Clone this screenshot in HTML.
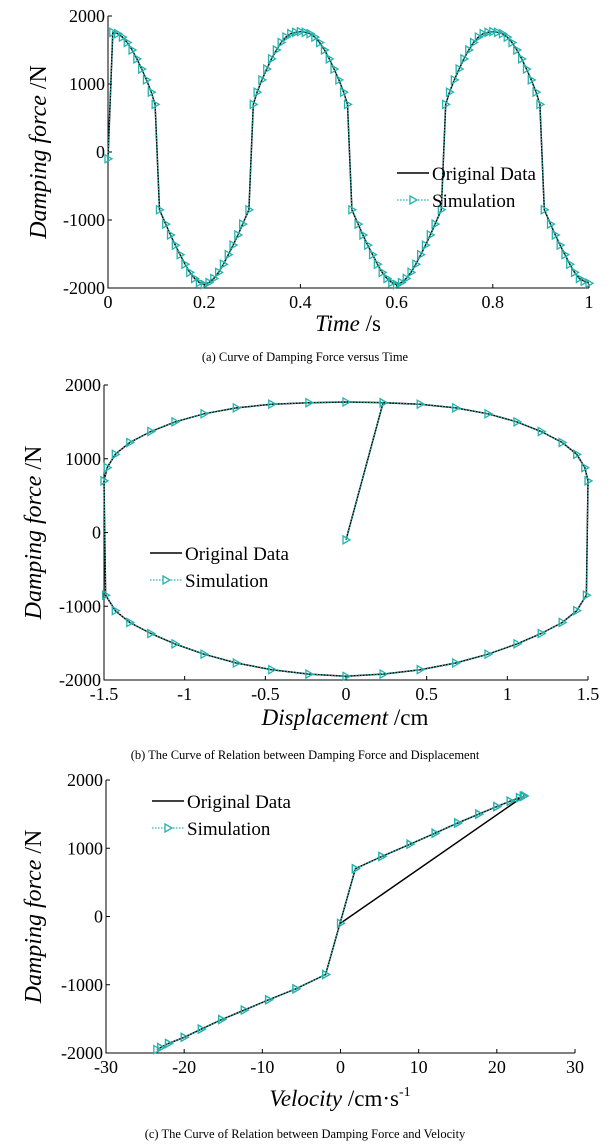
<!DOCTYPE html>
<html><head><meta charset="utf-8"><style>
html,body{margin:0;padding:0;background:#fff;}
svg{display:block;font-family:"Liberation Serif",serif;}
</style></head><body>
<svg id="root" width="610" height="1145" viewBox="0 0 610 1145"></svg>
<script>
// Chart (a) data: time (s) and damping force (N)
const timeA = [0,0.01,0.02,0.03,0.04,0.05,0.06,0.07,0.08,0.09,0.098,0.107,0.12,0.13,0.14,0.15,0.16,0.17,0.18,0.19,0.2,0.21,0.22,0.23,0.24,0.25,0.26,0.27,0.28,0.293,0.302,0.31,0.32,0.33,0.34,0.35,0.36,0.37,0.38,0.39,0.4,0.41,0.42,0.43,0.44,0.45,0.46,0.47,0.48,0.49,0.498,0.507,0.52,0.53,0.54,0.55,0.56,0.57,0.58,0.59,0.6,0.61,0.62,0.63,0.64,0.65,0.66,0.67,0.68,0.693,0.702,0.71,0.72,0.73,0.74,0.75,0.76,0.77,0.78,0.79,0.8,0.81,0.82,0.83,0.84,0.85,0.86,0.87,0.88,0.89,0.898,0.907,0.92,0.93,0.94,0.95,0.96,0.97,0.98,0.99,1.0];
const forceA = [-100,1760,1740,1690,1610,1500,1370,1220,1060,880,700,-850,-1060,-1220,-1370,-1510,-1650,-1770,-1860,-1920,-1950,-1920,-1860,-1770,-1650,-1510,-1370,-1220,-1060,-850,700,880,1060,1220,1370,1500,1610,1690,1740,1760,1770,1760,1740,1690,1610,1500,1370,1220,1060,880,700,-850,-1060,-1220,-1370,-1510,-1650,-1770,-1860,-1920,-1950,-1920,-1860,-1770,-1650,-1510,-1370,-1220,-1060,-850,700,880,1060,1220,1370,1500,1610,1690,1740,1760,1770,1760,1740,1690,1610,1500,1370,1220,1060,880,700,-850,-1060,-1220,-1370,-1510,-1650,-1770,-1860,-1900,-1930];
// Chart (b)/(c) data: one cycle
const loopForce = [-100,1760,1740,1690,1610,1500,1370,1220,1060,880,700,-850,-1060,-1220,-1370,-1510,-1650,-1770,-1860,-1920,-1950,-1920,-1860,-1770,-1650,-1510,-1370,-1220,-1060,-850,700,880,1060,1220,1370,1500,1610,1690,1740,1760,1770,1760];
const loopDisp = [0,0.23,0.46,0.68,0.88,1.06,1.21,1.34,1.43,1.48,1.50,1.49,1.43,1.34,1.21,1.06,0.88,0.68,0.46,0.23,0,-0.23,-0.46,-0.68,-0.88,-1.06,-1.21,-1.34,-1.43,-1.49,-1.50,-1.48,-1.43,-1.34,-1.21,-1.06,-0.88,-0.68,-0.46,-0.23,0,0.23];
const loopVel = [0,23.4,22.9,21.7,20,17.7,15,12.1,8.9,5.3,1.9,-1.9,-5.7,-9.2,-12.3,-15.2,-17.8,-20,-22,-23,-23.5,-23,-22,-20,-17.8,-15.2,-12.3,-9.2,-5.7,-1.9,1.9,5.3,8.9,12.1,15,17.7,20,21.7,22.9,23.4,23.5,23.4];
const yTicks = [2000,1000,0,-1000,-2000];
const yTickLabels = ["2000","1000","0","-1000","-2000"];
const xTicksA = [0,0.2,0.4,0.6,0.8,1];
const xTickLabelsA = ["0","0.2","0.4","0.6","0.8","1"];
const xTicksB = [-1.5,-1,-0.5,0,0.5,1,1.5];
const xTickLabelsB = ["-1.5","-1","-0.5","0","0.5","1","1.5"];
const xTicksC = [-30,-20,-10,0,10,20,30];
const xTickLabelsC = ["-30","-20","-10","0","10","20","30"];

const NS="http://www.w3.org/2000/svg";
const root=document.getElementById('root');
const CY="#25b3ad";
function mk(tag,attrs,parent,txt){const e=document.createElementNS(NS,tag);for(const k in attrs)e.setAttribute(k,attrs[k]);if(txt!==undefined)e.textContent=txt;(parent||root).appendChild(e);return e;}

function chart(cfg){
  const g=mk('g',{});
  
  
  const sx=v=>cfg.x0+(v-cfg.xmin)/(cfg.xmax-cfg.xmin)*(cfg.x1-cfg.x0);
  const sy=v=>cfg.y1+(v-(-2000))/4000*(cfg.y0-cfg.y1);
  const ax=mk('path',{d:`M${cfg.x0},${cfg.y0} V${cfg.y1} H${cfg.x1}`,stroke:'#000','stroke-width':1,fill:'none'},g);
  
  
  yTicks.forEach((v,i)=>{
    const y=sy(v);
    mk('line',{x1:cfg.x0,x2:cfg.x0+4,y1:y,y2:y,stroke:'#000'},g);
    const t=mk('text',{x:cfg.x0-3,y:y+6,'text-anchor':'end','font-size':18},g,yTickLabels[i]);
    
    
  });
  cfg.xt.forEach((v,i)=>{
    const x=sx(v);
    mk('line',{x1:x,x2:x,y1:cfg.y1,y2:cfg.y1-4,stroke:'#000'},g);
    const t=mk('text',{x:x,y:cfg.y1+20,'text-anchor':'middle','font-size':18},g,cfg.xl[i]);
    
    
  });
  const pts=cfg.xs.map((v,i)=>[sx(v).toFixed(1),sy(cfg.ys[i]).toFixed(1)]);
  let d=pts.map((p,i)=>(i?'L':'M')+p[0]+','+p[1]).join(' ');
  const o=mk('path',{d:d,stroke:'#000','stroke-width':1.5,fill:'none'},g);
  
  
  const sp=cfg.skipFirst?pts.slice(1):pts;
  let ds=sp.map((p,i)=>(i?'L':'M')+p[0]+','+p[1]).join(' ');
  const s=mk('path',{d:ds,stroke:CY,'stroke-width':1.2,'stroke-dasharray':'1.5,1.5',fill:'none'},g);
  
  
  cfg.xs.forEach((v,i)=>{
    const x=sx(v),y=sy(cfg.ys[i]);
    const m=mk('path',{d:`M${x-3},${y-4} L${x+4},${y} L${x-3},${y+4} Z`,stroke:CY,'stroke-width':1.3,fill:'none'},g);
    
    
  });
  const lg=mk('g',{},g);
  
  
  mk('line',{x1:cfg.lx,x2:cfg.lx+32,y1:cfg.ly,y2:cfg.ly,stroke:'#000','stroke-width':1.5},lg);
  mk('text',{x:cfg.lx+35,y:cfg.ly+7,'font-size':19},lg,'Original Data');
  mk('line',{x1:cfg.lx,x2:cfg.lx+32,y1:cfg.ly+27,y2:cfg.ly+27,stroke:CY,'stroke-width':1.2,'stroke-dasharray':'1.5,1.5'},lg);
  const lm=cfg.lx+16,lmy=cfg.ly+27;
  mk('path',{d:`M${lm-3},${lmy-4} L${lm+4},${lmy} L${lm-3},${lmy+4} Z`,stroke:CY,'stroke-width':1.3,fill:'#fff'},lg);
  mk('text',{x:cfg.lx+35,y:cfg.ly+34,'font-size':19},lg,'Simulation');
  const yt=mk('text',{x:0,y:0,'font-size':24,'text-anchor':'middle',transform:`translate(${cfg.ytx},${(cfg.y0+cfg.y1)/2}) rotate(-90)`},g);
  
  
  mk('tspan',{'font-style':'italic'},yt,'Damping force ');
  mk('tspan',{},yt,'/N');
  const xt=mk('text',{x:cfg.xtx,y:cfg.xty,'font-size':23,'text-anchor':'middle'},g);
  
  
  mk('tspan',{'font-style':'italic'},xt,cfg.xtitle);
  mk('tspan',{},xt,cfg.xunit);
  if(cfg.sup){mk('tspan',{'font-size':14,dy:-10},xt,'-1');}
  const cap=mk('text',{x:305,y:cfg.capy,'font-size':12.5,'text-anchor':'middle'},g,cfg.caption);
  
  
}

chart({name:'chart-force-vs-time',x0:108,x1:589,y0:16,y1:288,xmin:0,xmax:1,xt:xTicksA,xl:xTickLabelsA,xs:timeA,ys:forceA,lx:397,ly:173,ytx:46,xtx:348,xty:331,xtitle:'Time ',xunit:'/s',capy:361,caption:'(a) Curve of Damping Force versus Time'});
chart({name:'chart-force-vs-displacement',x0:104,x1:588,y0:385,y1:680,xmin:-1.5,xmax:1.5,xt:xTicksB,xl:xTickLabelsB,xs:loopDisp,ys:loopForce,lx:150,ly:553,ytx:41,xtx:345,xty:725,xtitle:'Displacement ',xunit:'/cm',capy:759,caption:'(b) The Curve of Relation between Damping Force and Displacement'});
chart({name:'chart-force-vs-velocity',x0:106,x1:575,y0:780,y1:1053,xmin:-30,xmax:30,xt:xTicksC,xl:xTickLabelsC,xs:loopVel,ys:loopForce,skipFirst:true,lx:152,ly:801,ytx:41,xtx:340,xty:1106,xtitle:'Velocity ',xunit:'/cm·s',sup:true,capy:1138,caption:'(c) The Curve of Relation between Damping Force and Velocity'});
</script>
</body></html>
